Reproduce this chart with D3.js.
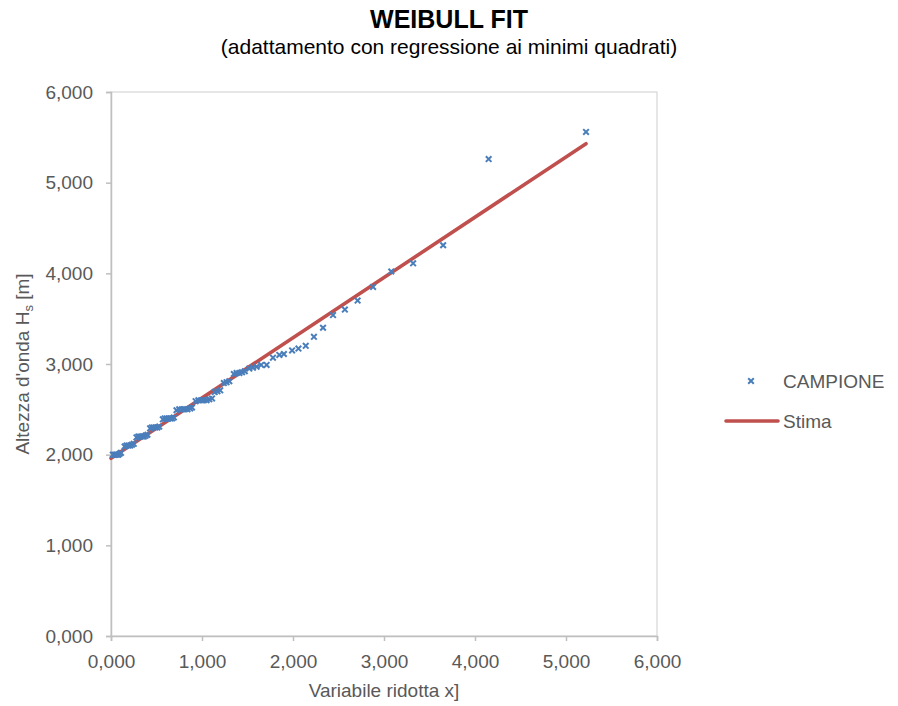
<!DOCTYPE html>
<html><head><meta charset="utf-8">
<script src="https://cdn.jsdelivr.net/npm/d3@7"></script>
<style>body{margin:0;background:#fff;} svg{display:block;font-family:"Liberation Sans",Arial,sans-serif;}</style>
</head><body>
<svg id="c" width="898" height="706"></svg>
<script>
// Sample points (reduced variate x, Hs)
const sampleX = [0.02,0.035,0.05,0.065,0.08,0.095,0.11,
  0.15,0.17,0.19,0.21,0.23,0.25,
  0.28,0.30,0.32,0.34,0.36,0.38,0.40,
  0.43,0.45,0.47,0.49,0.51,0.53,
  0.57,0.59,0.61,0.63,0.65,0.67,0.69,
  0.72,0.75,0.78,0.81,0.84,0.87,0.89,
  0.93,0.96,0.99,1.02,1.05,1.08,1.11,
  1.14,1.17,1.20,
  1.24,1.27,1.30,
  1.35,1.38,1.41,1.44,1.47,
  1.52,1.56,1.60,
  1.65,1.71,1.78,1.85,1.90,1.99,2.06,2.14,2.23,2.33,2.44,2.57,2.71,2.88,3.08,3.32,3.65,4.15,5.22];
const sampleH = [2.00,2.00,2.00,2.00,2.00,2.01,2.02,
  2.09,2.10,2.10,2.10,2.11,2.12,
  2.19,2.20,2.20,2.20,2.20,2.21,2.22,
  2.29,2.30,2.30,2.30,2.30,2.31,
  2.39,2.40,2.40,2.40,2.40,2.40,2.41,
  2.49,2.50,2.50,2.50,2.50,2.51,2.52,
  2.59,2.60,2.60,2.60,2.60,2.61,2.62,
  2.69,2.70,2.71,
  2.79,2.80,2.81,
  2.89,2.90,2.90,2.91,2.92,
  2.95,2.96,2.97,
  2.99,2.99,3.07,3.10,3.11,3.15,3.17,3.20,3.30,3.40,3.54,3.60,3.70,3.85,4.02,4.11,4.31,5.26,5.56];
// Fitted line end points
const fitX = [0.0, 5.22];
const fitH = [1.96, 5.43];
const xTicks = [0,1,2,3,4,5,6];
const yTicks = [0,1,2,3,4,5,6];

const svg = d3.select("#c");
const L = 111, R = 657, T = 92, B = 636;
const x = d3.scaleLinear().domain([0,6]).range([L,R]);
const y = d3.scaleLinear().domain([0,6]).range([B,T]);
const fmt = v => d3.format(".3f")(v).replace(".", ",");
const grey = "#595959", axisCol = "#bfbfbf";
const FS = 19;

// plot border
svg.append("rect").attr("x",L).attr("y",T).attr("width",R-L).attr("height",B-T)
  .attr("fill","none").attr("stroke","#d9d9d9").attr("stroke-width",1.3);

const xa = svg.append("g").attr("transform",`translate(0,${B})`)
  .call(d3.axisBottom(x).tickValues(xTicks).tickFormat(fmt).tickSizeOuter(0).tickSize(5).tickPadding(14));
const ya = svg.append("g").attr("transform",`translate(${L},0)`)
  .call(d3.axisLeft(y).tickValues(yTicks).tickFormat(fmt).tickSizeOuter(0).tickSize(5).tickPadding(13));
[xa,ya].forEach(g=>{
  g.select(".domain").attr("stroke",axisCol).attr("stroke-width",1.5);
  g.selectAll(".tick line").attr("stroke",axisCol).attr("stroke-width",1.5);
  g.selectAll(".tick text").attr("fill",grey).attr("font-size",FS).attr("font-family","Liberation Sans, Arial, sans-serif");
});

// fit line
const fitData = fitX.map((v,i)=>[v,fitH[i]]);
svg.append("path").datum(fitData)
  .attr("d", d3.line().x(d=>x(d[0])).y(d=>y(d[1])))
  .attr("stroke","#C0504D").attr("stroke-width",3.6).attr("fill","none").attr("stroke-linecap","round");

// markers
const crossPath = "M-2.8,-2.8L2.8,2.8M-2.8,2.8L2.8,-2.8";
const pts = sampleX.map((v,i)=>[v,sampleH[i]]);
svg.append("g").selectAll("path").data(pts).join("path")
  .attr("d", crossPath)
  .attr("transform", d=>`translate(${x(d[0])},${y(d[1])})`)
  .attr("fill","none").attr("stroke","#4A7EBB").attr("stroke-width",2);

// titles
svg.append("text").attr("x",449).attr("y",28).attr("text-anchor","middle")
  .attr("font-size",25).attr("font-weight","bold").attr("fill","#000").text("WEIBULL FIT");
svg.append("text").attr("x",449).attr("y",54).attr("text-anchor","middle")
  .attr("font-size",21).attr("fill","#000").text("(adattamento con regressione ai minimi quadrati)");

svg.append("text").attr("x",(L+R)/2).attr("y",697).attr("text-anchor","middle")
  .attr("font-size",FS).attr("fill",grey).text("Variabile ridotta x]");

const yt = svg.append("text").attr("transform",`translate(29,${(T+B)/2}) rotate(-90)`)
  .attr("text-anchor","middle").attr("font-size",FS).attr("fill",grey);
yt.append("tspan").text("Altezza d'onda H");
yt.append("tspan").attr("font-size",13).attr("dy",4).text("s");
yt.append("tspan").attr("dy",-4).text(" [m]");

// legend
const lg = svg.append("g");
lg.append("path").attr("d", crossPath)
  .attr("transform","translate(751,381)").attr("fill","none").attr("stroke","#4A7EBB").attr("stroke-width",2);
lg.append("text").attr("x",783).attr("y",388).attr("font-size",FS).attr("fill",grey).text("CAMPIONE");
lg.append("line").attr("x1",726).attr("x2",778).attr("y1",421).attr("y2",421)
  .attr("stroke","#C0504D").attr("stroke-width",3.6).attr("stroke-linecap","round");
lg.append("text").attr("x",783).attr("y",428).attr("font-size",FS).attr("fill",grey).text("Stima");
</script>
</body></html>
